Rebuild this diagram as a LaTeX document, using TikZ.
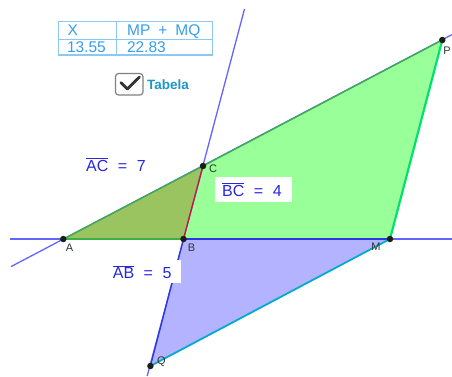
\documentclass[tikz,border=0pt]{standalone}
\usepackage{fontspec}
\setmainfont{Liberation Sans}
\definecolor{lineC}{RGB}{100,100,255}
\definecolor{quadG}{RGB}{153,255,153}
\definecolor{triG}{RGB}{153,196,96}
\definecolor{triB}{RGB}{179,179,255}
\definecolor{edgeG}{RGB}{60,175,70}
\definecolor{edgePM}{RGB}{0,225,110}
\definecolor{edgeMQ}{RGB}{0,170,210}
\definecolor{edgeB}{RGB}{45,55,225}
\definecolor{edgeR}{RGB}{205,20,60}
\definecolor{lblC}{RGB}{40,40,225}
\definecolor{ptC}{RGB}{25,30,25}
\definecolor{ptL}{RGB}{45,55,45}
\definecolor{tabB}{RGB}{140,200,245}
\definecolor{tabT}{RGB}{55,160,235}
\definecolor{chkT}{RGB}{30,150,200}
\newcommand{\ovl}[1]{$\overline{\mbox{#1}}$}
\begin{document}
\begin{tikzpicture}[x=1pt,y=-1pt,
  pt/.style={circle,fill=ptC,inner sep=0pt,minimum size=6.5pt},
  ptlabel/.style={text=ptL,font=\fontsize{11}{13}\selectfont,inner sep=0pt},
  infline/.style={draw=lineC,line width=1.3pt},
  lenlabel/.style={text=lblC,font=\fontsize{16}{19}\selectfont,inner sep=0pt},
  tabtext/.style={text=tabT,font=\fontsize{15.5}{18}\selectfont,inner sep=0pt,anchor=base west}]
\useasboundingbox (0,0) rectangle (452,376);
% points
\coordinate (A) at (63.3,239);
\coordinate (B) at (183.5,239);
\coordinate (C) at (203,166);
\coordinate (M) at (390,239);
\coordinate (P) at (442.3,40);
\coordinate (Q) at (150.4,366);
% line ends
\coordinate (h1) at (10,239);
\coordinate (h2) at (452,239);
\coordinate (a1) at (11,266.6);
\coordinate (a2) at (452,34.6);
\coordinate (b1) at (244.5,9);
\coordinate (b2) at (147.2,376);
% fills
\fill[triB] (B) -- (M) -- (Q) -- cycle;
\fill[quadG] (B) -- (M) -- (P) -- (C) -- cycle;
\fill[triG] (A) -- (B) -- (C) -- cycle;
% infinite lines
\draw[infline,line width=1.6pt] (h1) -- (h2);
\draw[infline] (a1) -- (a2);
\draw[infline] (b1) -- (b2);
% polygon edges
\draw[edgeG,line width=1.5pt] (A) -- (B);
\draw[edgeG,line width=1.3pt] (A) -- (C);
\draw[edgeG,line width=1.3pt] (C) -- (P);
\draw[edgePM,line width=2.2pt] (P) -- (M);
\draw[edgeB,line width=1.6pt] (B) -- (M);
\draw[edgeMQ,line width=1.8pt] (M) -- (Q);
\draw[edgeB,line width=1.3pt] (B) -- (Q);
\draw[edgeR,line width=1.3pt] (B) -- (C);
% length labels
\node[lenlabel,anchor=west] (lAC) at (86,164.5) {\ovl{AC}\hspace{9.5pt}=\hspace{9.5pt}7};
\fill[white] (215,177) rectangle (292,202);
\node[lenlabel,anchor=west] (lBC) at (222,189.5) {\ovl{BC}\hspace{9.5pt}=\hspace{9.5pt}4};
\fill[white] (106,260) rectangle (180.5,283);
\node[lenlabel,anchor=west] (lAB) at (112.7,272.5) {\ovl{AB}\hspace{9.5pt}=\hspace{9.5pt}5};
% point markers
\node[pt] (pA) at (A) {};
\node[pt] (pB) at (B) {};
\node[pt] (pC) at (C) {};
\node[pt] (pM) at (M) {};
\node[pt] (pP) at (P) {};
\node[pt] (pQ) at (Q) {};
\node[ptlabel] (tA) at (69.5,248) {A};
\node[ptlabel] (tB) at (191.5,248) {B};
\node[ptlabel] (tC) at (213,169) {C};
\node[ptlabel] (tM) at (376,246.5) {M};
\node[ptlabel] (tP) at (447,50.5) {P};
\node[ptlabel] (tQ) at (161.5,361.5) {Q};
% table
\draw[tabB,line width=1.1pt,fill=white] (58.3,21.7) rectangle (212.3,55);
\draw[tabB,line width=1.1pt] (116.7,21.7) -- (116.7,55);
\draw[tabB,line width=1.1pt] (58.3,39.3) -- (212.3,39.3);
\node[tabtext] (tX) at (67.5,35.5) {X};
\node[tabtext] (tMP) at (127,35.5) {MP\hspace{8pt}+\hspace{8pt}MQ};
\node[tabtext] (tv1) at (66.8,52.5) {13.55};
\node[tabtext] (tv2) at (126.8,52.5) {22.83};
% checkbox
\draw[gray,line width=1.2pt,fill=white,rounded corners=3pt] (115.5,73.5) rectangle (143,95);
\draw[black!80,line width=2.8pt,line cap=round,line join=round] (120.8,82.5) -- (127.3,89) -- (139.5,77);
\node[text=chkT,font=\bfseries\fontsize{13.5}{16}\selectfont,anchor=west,inner sep=0pt] (tTab) at (147,84.5) {Tabela};
\end{tikzpicture}
\end{document}
